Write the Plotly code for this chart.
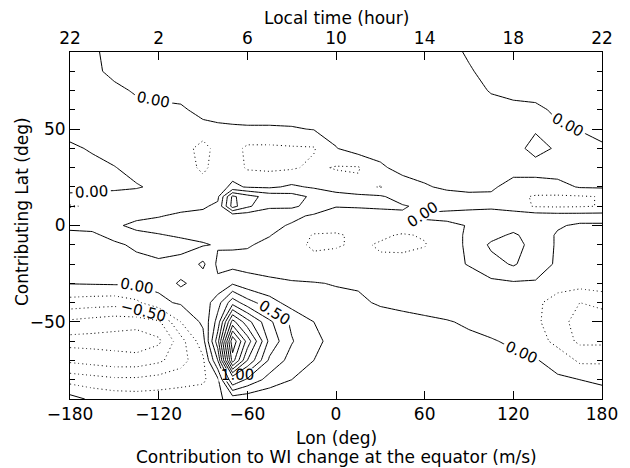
import plotly.graph_objects as go

# ---------------- data ----------------
lon = [-180, -165, -150, -135, -120, -105, -90, -80, -70, -60, -45, -30, -15,
       0, 15, 30, 45, 60, 75, 90, 105, 120, 135, 150, 165, 180]
lat_north_to_south = [90, 80, 70, 60, 50, 40, 30, 20, 15, 10, 5, 0, -5, -10,
                      -20, -30, -40, -50, -60, -70, -80, -90]

# contribution (m/s), rows from north (90) to south (-90), columns follow lon
z_n2s = [
    [-0.10, -0.05, 0.10, 0.12, 0.12, 0.12, 0.12, 0.12, 0.12, 0.12, 0.12, 0.12, 0.12, 0.12, 0.12, 0.12, 0.12, 0.10, 0.10, -0.04, -0.10, -0.10, -0.10, -0.10, -0.10, -0.10],
    [-0.10, -0.08, 0.09, 0.12, 0.12, 0.12, 0.12, 0.12, 0.12, 0.12, 0.12, 0.12, 0.12, 0.12, 0.12, 0.12, 0.12, 0.10, 0.08, 0.03, -0.10, -0.10, -0.10, -0.10, -0.10, -0.10],
    [-0.10, -0.10, -0.08, 0.04, 0.10, 0.12, 0.12, 0.12, 0.12, 0.12, 0.12, 0.12, 0.12, 0.12, 0.12, 0.12, 0.12, 0.12, 0.10, 0.10, -0.02, -0.10, -0.10, -0.10, -0.10, -0.10],
    [-0.10, -0.10, -0.10, -0.10, -0.08, -0.05, 0.10, 0.12, 0.12, 0.12, 0.12, 0.12, 0.12, 0.12, 0.12, 0.12, 0.12, 0.12, 0.12, 0.10, 0.10, 0.10, 0.06, -0.05, -0.10, -0.10],
    [-0.10, -0.10, -0.10, -0.10, -0.10, -0.10, -0.10, -0.06, -0.04, -0.03, -0.03, -0.02, 0.01, 0.08, 0.10, 0.12, 0.12, 0.12, 0.12, 0.12, 0.10, 0.08, 0.03, 0.04, -0.01, -0.10],
    [0.05, -0.03, -0.10, -0.10, -0.10, -0.12, -0.35, -0.15, -0.15, -0.30, -0.30, -0.28, -0.27, -0.01, 0.12, 0.12, 0.12, 0.12, 0.12, 0.12, 0.12, 0.11, -0.10, 0.04, 0.10, 0.05],
    [0.08, 0.08, 0.01, -0.08, -0.10, -0.12, -0.30, -0.15, -0.12, -0.28, -0.30, -0.28, -0.20, -0.27, -0.27, -0.05, 0.10, 0.12, 0.12, 0.12, 0.12, 0.12, 0.12, 0.12, 0.12, 0.08],
    [0.08, 0.08, 0.06, 0.02, -0.05, -0.10, -0.15, -0.10, 0.05, -0.02, -0.04, 0.04, -0.03, -0.10, -0.20, -0.26, -0.15, -0.03, 0.05, 0.10, 0.05, -0.12, -0.12, -0.08, 0.02, 0.03],
    [-0.05, -0.08, -0.10, -0.10, -0.10, -0.10, -0.10, -0.05, 0.80, 0.60, 0.40, 0.35, 0.20, 0.08, 0.06, 0.03, -0.10, -0.10, -0.10, -0.08, -0.05, -0.20, -0.27, -0.28, -0.27, -0.24],
    [-0.28, -0.20, -0.12, -0.10, -0.08, -0.05, -0.03, 0.05, 0.85, 0.55, 0.30, 0.30, 0.15, 0.01, 0.02, 0.02, 0.02, -0.05, -0.05, -0.05, -0.05, -0.15, -0.27, -0.28, -0.27, -0.24],
    [-0.05, -0.05, -0.05, -0.03, -0.01, 0.03, 0.06, 0.08, 0.10, 0.10, 0.08, 0.05, -0.03, -0.10, -0.10, -0.05, -0.03, 0.03, 0.05, 0.08, 0.12, 0.15, 0.12, 0.10, 0.10, 0.10],
    [-0.05, -0.05, -0.02, 0.03, 0.06, 0.08, 0.10, 0.12, 0.12, 0.10, 0.05, -0.02, -0.12, -0.15, -0.12, -0.08, -0.08, -0.05, -0.04, 0.01, 0.10, 0.12, 0.10, 0.02, -0.03, -0.03],
    [0.05, 0.03, -0.05, -0.03, -0.01, 0.02, 0.06, 0.08, 0.08, 0.06, 0.01, -0.10, -0.27, -0.28, -0.20, -0.20, -0.28, -0.22, -0.05, 0.02, 0.15, 0.30, 0.10, -0.02, -0.05, -0.05],
    [0.10, 0.08, 0.03, -0.03, -0.05, -0.05, -0.02, 0.02, 0.03, 0.02, -0.05, -0.15, -0.30, -0.28, -0.20, -0.28, -0.32, -0.27, -0.05, 0.02, 0.30, 0.35, 0.15, -0.03, -0.08, -0.08],
    [0.10, 0.10, 0.08, 0.05, 0.02, 0.05, 0.30, -0.05, -0.08, -0.08, -0.10, -0.12, -0.15, -0.12, -0.12, -0.20, -0.15, -0.10, -0.05, 0.01, 0.15, 0.28, 0.10, -0.03, -0.10, -0.10],
    [0.01, 0.02, 0.03, 0.03, 0.05, 0.30, 0.10, 0.05, 0.22, 0.10, 0.05, 0.02, 0.01, -0.01, -0.02, -0.05, -0.08, -0.10, -0.10, -0.08, -0.05, -0.03, -0.02, -0.15, -0.15, -0.10],
    [-0.35, -0.38, -0.40, -0.30, -0.05, 0.03, 0.10, 0.40, 0.90, 0.60, 0.35, 0.15, 0.05, 0.05, 0.03, -0.02, -0.04, -0.06, -0.08, -0.10, -0.10, -0.12, -0.20, -0.35, -0.50, -0.45],
    [-0.80, -0.85, -0.90, -0.90, -0.80, -0.25, 0.05, 0.60, 1.85, 1.35, 0.80, 0.45, 0.25, 0.15, 0.10, 0.08, 0.05, 0.03, 0.01, -0.02, -0.05, -0.08, -0.20, -0.40, -0.60, -0.60],
    [-1.10, -1.10, -1.10, -1.15, -1.05, -0.60, -0.10, 0.90, 2.70, 1.90, 0.93, 0.52, 0.30, 0.18, 0.12, 0.10, 0.08, 0.06, 0.05, 0.03, 0.01, -0.02, -0.10, -0.35, -0.55, -0.55],
    [-0.80, -0.85, -0.90, -0.90, -0.80, -0.60, -0.30, 0.50, 2.37, 1.50, 0.70, 0.40, 0.25, 0.15, 0.10, 0.08, 0.07, 0.06, 0.05, 0.05, 0.04, 0.03, 0.01, -0.05, -0.30, -0.30],
    [-0.35, -0.40, -0.45, -0.45, -0.40, -0.35, -0.30, -0.05, 1.00, 0.70, 0.40, 0.25, 0.15, 0.10, 0.08, 0.06, 0.05, 0.05, 0.05, 0.04, 0.04, 0.03, 0.03, 0.02, 0.00, -0.02],
    [0.10, -0.05, -0.10, -0.12, -0.12, -0.10, -0.08, -0.05, 0.10, 0.08, 0.05, 0.04, 0.03, 0.03, 0.03, 0.03, 0.03, 0.03, 0.03, 0.03, 0.03, 0.03, 0.03, 0.03, 0.03, 0.05],
]

lon_ticks = [-180, -120, -60, 0, 60, 120, 180]
lon_ticktext = ["\u2212180", "\u2212120", "\u221260", "0", "60", "120", "180"]
local_time_ticktext = ["22", "2", "6", "10", "14", "18", "22"]
lat_ticks = [-50, 0, 50]
lat_ticktext = ["\u221250", "0", "50"]
lat_minor_ticks = [-80, -70, -60, -40, -30, -20, -10, 10, 20, 30, 40, 60, 70, 80]

# ---------------- figure ----------------
lat = lat_north_to_south[::-1]
z = z_n2s[::-1]

FONT = "DejaVu Sans"
FS = 17
DOT = "1px,3px"
fig = go.Figure()


def contour_trace(start, end, size, dash, labels):
    return go.Contour(
        x=lon, y=lat, z=z,
        autocontour=False,
        contours=dict(start=start, end=end, size=size, coloring="none",
                      showlabels=labels, labelformat=".2f",
                      labelfont=dict(family=FONT, size=15, color="black")),
        line=dict(color="black", width=1, dash=dash, smoothing=0),
        showscale=False, hoverinfo="skip",
    )


# negative levels (dotted)
fig.add_trace(contour_trace(-1.25, -0.25, 0.5, DOT, False))
fig.add_trace(contour_trace(-1.0, -1.0, 0.5, DOT, False))
fig.add_trace(contour_trace(-0.5, -0.5, 0.5, DOT, True))
# zero & positive levels (solid)
fig.add_trace(contour_trace(0.25, 2.75, 0.5, "solid", False))
fig.add_trace(contour_trace(0.0, 1.0, 0.5, "solid", True))
fig.add_trace(contour_trace(1.5, 2.5, 0.5, "solid", False))

# invisible trace to activate top axis
fig.add_trace(go.Scatter(x=[-180, 180], y=[0, 0], xaxis="x2", mode="markers",
                         marker=dict(opacity=0), hoverinfo="skip", showlegend=False))

axis_common = dict(showgrid=False, zeroline=False, showline=True, linecolor="black",
                   linewidth=1, ticks="inside", tickcolor="black",
                   tickfont=dict(family=FONT, size=FS, color="black"))

PL, PR, PT, PB = 70, 602, 52, 399
PW, PH = PR - PL, PB - PT


def px_x(v):
    return (v - PL) / PW


def px_y(v):
    return (PB - v) / PH


fig.update_layout(
    width=630, height=468,
    margin=dict(l=PL, r=630 - PR, t=PT, b=468 - PB),
    paper_bgcolor="white", plot_bgcolor="white",
    showlegend=False,
    font=dict(family=FONT, size=FS, color="black"),
    xaxis=dict(range=[-180, 180], tickvals=lon_ticks, ticktext=lon_ticktext,
               ticklen=8, **axis_common),
    xaxis2=dict(range=[-180, 180], overlaying="x", side="top", anchor="y",
                tickvals=lon_ticks, ticktext=local_time_ticktext, ticklen=8,
                **axis_common),
    yaxis=dict(range=[-90, 90], tickvals=lat_ticks, ticktext=lat_ticktext,
               ticklen=10, mirror="ticks",
               minor=dict(tickvals=lat_minor_ticks, ticks="inside",
                          ticklen=5, tickcolor="black"),
               **axis_common),
    annotations=[
        dict(text="Local time (hour)", xref="paper", yref="paper",
             x=0.5, y=px_y(18), xanchor="center", yanchor="middle", showarrow=False),
        dict(text="Lon (deg)", xref="paper", yref="paper",
             x=0.5, y=px_y(438), xanchor="center", yanchor="middle", showarrow=False),
        dict(text="Contribution to WI change at the equator (m/s)", xref="paper", yref="paper",
             x=0.5, y=px_y(457), xanchor="center", yanchor="middle", showarrow=False),
        dict(text="Contributing Lat (deg)", xref="paper", yref="paper", textangle=-90,
             x=px_x(22), y=px_y(212), xanchor="center", yanchor="middle", showarrow=False),
    ],
)

fig.write_html("out.html")
